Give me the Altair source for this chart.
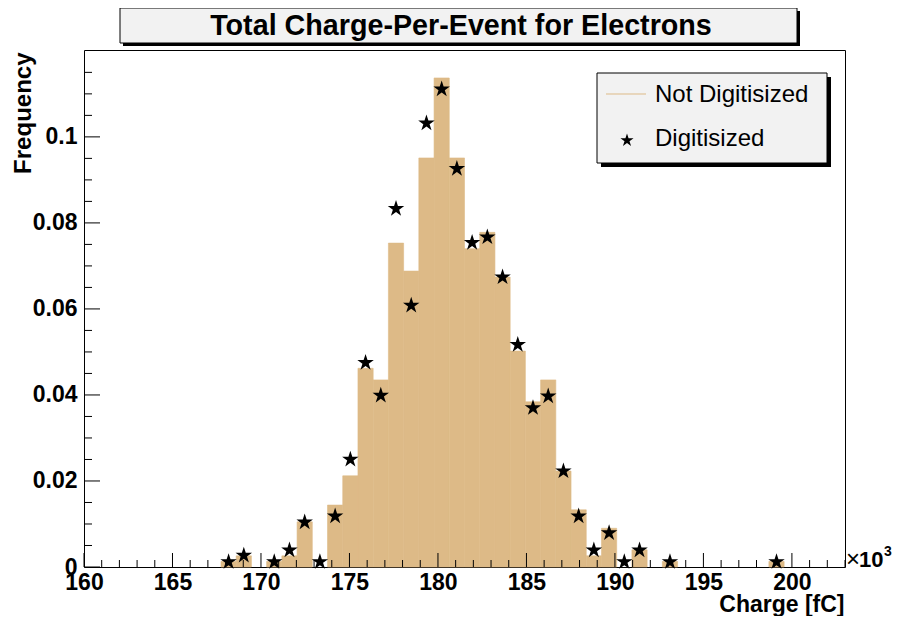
import altair as alt
import pandas as pd

# ---------------- data ----------------
x_domain = [160, 203]
y_domain = [0, 0.1202]
bin_width = 0.86

# lower edges of the filled histogram bins (x10^3 fC)
bin_lo = [167.74, 168.60, 169.46, 170.32, 171.18, 172.04, 172.90, 173.76, 174.62,
          175.48, 176.34, 177.20, 178.06, 178.92, 179.78, 180.64, 181.50, 182.36,
          183.22, 184.08, 184.94, 185.80, 186.66, 187.52, 188.38, 189.24, 190.10,
          190.96, 191.82, 192.68, 198.70]
# "Not Digitisized" histogram frequencies
not_digitised = [0.0013, 0.0026, 0.0, 0.0013, 0.0026, 0.0105, 0.0, 0.0144, 0.0212,
                 0.0462, 0.0435, 0.0753, 0.0688, 0.0951, 0.1137, 0.0951, 0.0740, 0.0778,
                 0.0674, 0.0502, 0.0384, 0.0435, 0.0223, 0.0133, 0.0026, 0.0090, 0.0,
                 0.0040, 0.0, 0.0013, 0.0013]
# "Digitisized" star markers (None = no marker)
digitised = [0.0013, 0.0028, None, 0.0013, 0.0040, 0.0105, 0.0013, 0.0119, 0.0251,
             0.0476, 0.0400, 0.0834, 0.0609, 0.1033, 0.1112, 0.0927, 0.0755, 0.0768,
             0.0675, 0.0518, 0.0371, 0.0398, 0.0224, 0.0119, 0.0040, 0.0080, 0.0013,
             0.0040, None, 0.0013, 0.0013]

x_major = [160, 165, 170, 175, 180, 185, 190, 195, 200]
x_minor = [v for v in range(161, 204) if v % 5 != 0]
y_major = [0, 0.02, 0.04, 0.06, 0.08, 0.1]
y_minor = [0.005, 0.01, 0.015, 0.025, 0.03, 0.035, 0.045, 0.05, 0.055, 0.065, 0.07,
           0.075, 0.085, 0.09, 0.095, 0.105, 0.11, 0.115]

title_text = "Total Charge-Per-Event for Electrons"
legend_labels = ["Not Digitisized", "Digitisized"]

# ---------------- styling ----------------
FONT = "Liberation Sans"
TAN = "#ddba87"
STAR = ("M0,-0.95L0.225,-0.259L0.951,-0.259L0.363,0.168L0.588,0.859L0,0.432"
        "L-0.588,0.859L-0.363,0.168L-0.951,-0.259L-0.225,-0.259Z")
W, H = 761, 517

hist = pd.DataFrame({"lo": bin_lo, "freq": not_digitised})
hist["hi"] = hist["lo"] + bin_width
hist = hist[hist["freq"] > 0]

pts = pd.DataFrame({"lo": bin_lo, "freq": digitised}).dropna()
pts["center"] = pts["lo"] + bin_width / 2

xs = alt.Scale(domain=x_domain, nice=False, zero=False)
ys = alt.Scale(domain=y_domain, nice=False, zero=False)

xaxis = alt.Axis(
    values=x_major, format="d", ticks=False, tickSize=0, domain=False, grid=False,
    labelFont=FONT, labelFontWeight="bold", labelFontSize=23, labelColor="black",
    labelPadding=4, labelFlush=False, labelOverlap=False, labelBound=False,
    title="Charge [fC]", titleFont=FONT, titleFontWeight="bold", titleFontSize=23,
    titleColor="black", titleAlign="right", titleAnchor="end", titleBaseline="alphabetic",
    titleX=W - 1, titleY=44)
yaxis = alt.Axis(
    values=y_major, format="~g", ticks=False, tickSize=0, domain=False, grid=False,
    labelFont=FONT, labelFontWeight="bold", labelFontSize=23, labelColor="black",
    labelPadding=7, labelOverlap=False, labelBound=False,
    title="Frequency", titleFont=FONT, titleFontWeight="bold", titleFontSize=24,
    titleColor="black", titleAngle=-90, titleAlign="right", titleAnchor="end",
    titleBaseline="alphabetic", titleX=-54, titleY=2)

bars = alt.Chart(hist).mark_rect(color=TAN, stroke=TAN, strokeWidth=0.6).encode(
    x=alt.X("lo:Q", scale=xs, axis=xaxis, title="Charge [fC]"),
    x2="hi:Q",
    y=alt.Y("freq:Q", scale=ys, axis=yaxis, title="Frequency"),
    y2=alt.datum(0),
)

stars = alt.Chart(pts).mark_point(shape=STAR, filled=True, size=300, color="black",
                                  opacity=1, strokeWidth=0).encode(
    x=alt.X("center:Q", scale=xs, axis=xaxis, title="Charge [fC]"),
    y=alt.Y("freq:Q", scale=ys, axis=yaxis, title="Frequency"),
)

xmaj = alt.Chart(pd.DataFrame({"v": x_major})).mark_rule(color="black").encode(
    x=alt.X("v:Q", scale=xs, axis=xaxis, title="Charge [fC]"),
    y=alt.value(H), y2=alt.value(H - 14))
xmin = alt.Chart(pd.DataFrame({"v": x_minor})).mark_rule(color="black").encode(
    x=alt.X("v:Q", scale=xs, axis=xaxis, title="Charge [fC]"),
    y=alt.value(H), y2=alt.value(H - 7))
ymaj = alt.Chart(pd.DataFrame({"v": y_major})).mark_rule(color="black").encode(
    y=alt.Y("v:Q", scale=ys, axis=yaxis, title="Frequency"),
    x=alt.value(0), x2=alt.value(16))
ymin = alt.Chart(pd.DataFrame({"v": y_minor})).mark_rule(color="black").encode(
    y=alt.Y("v:Q", scale=ys, axis=yaxis, title="Frequency"),
    x=alt.value(0), x2=alt.value(8))

one = pd.DataFrame({"a": [0]})

# title box (ROOT style pave with shadow)
title_shadow = alt.Chart(one).mark_rect(color="black").encode(
    x=alt.value(39), x2=alt.value(716), y=alt.value(-39), y2=alt.value(-4))
title_box = alt.Chart(one).mark_rect(fill="#f2f2f2", stroke="black", strokeWidth=1).encode(
    x=alt.value(36), x2=alt.value(713), y=alt.value(-42), y2=alt.value(-7))
title_lbl = alt.Chart(one).mark_text(text=title_text, font=FONT, fontWeight="bold",
                                     fontSize=28.7, color="black", align="center",
                                     baseline="middle").encode(
    x=alt.value(377), y=alt.value(-24))

# legend box
leg_shadow = alt.Chart(one).mark_rect(color="black").encode(
    x=alt.value(517), x2=alt.value(747), y=alt.value(27), y2=alt.value(117))
leg_box = alt.Chart(one).mark_rect(fill="#f2f2f2", stroke="black", strokeWidth=1).encode(
    x=alt.value(513), x2=alt.value(743), y=alt.value(23), y2=alt.value(113))
leg_line = alt.Chart(one).mark_rule(color=TAN, strokeWidth=1).encode(
    x=alt.value(522), x2=alt.value(562), y=alt.value(44))
leg_star = alt.Chart(one).mark_point(shape=STAR, filled=True, size=190, color="black",
                                     opacity=1, strokeWidth=0).encode(
    x=alt.value(543), y=alt.value(90))
leg_t1 = alt.Chart(one).mark_text(text=legend_labels[0], font=FONT, fontSize=24,
                                  color="black", align="left", baseline="middle").encode(
    x=alt.value(571), y=alt.value(45))
leg_t2 = alt.Chart(one).mark_text(text=legend_labels[1], font=FONT, fontSize=24,
                                  color="black", align="left", baseline="middle").encode(
    x=alt.value(571), y=alt.value(89))

# x10^3 exponent
exp_x = alt.Chart(one).mark_text(text="×", font=FONT, fontSize=24, color="black",
                                 align="left", baseline="alphabetic").encode(
    x=alt.value(762), y=alt.value(517))
exp_10 = alt.Chart(one).mark_text(text="10", font=FONT, fontSize=22, fontWeight="bold",
                                  color="black", align="left", baseline="alphabetic").encode(
    x=alt.value(775), y=alt.value(517))
exp_3 = alt.Chart(one).mark_text(text="3", font=FONT, fontSize=14, fontWeight="bold",
                                 color="black", align="left", baseline="alphabetic").encode(
    x=alt.value(800), y=alt.value(506))

chart = alt.layer(
    bars, xmin, xmaj, ymin, ymaj, stars,
    title_shadow, title_box, title_lbl,
    leg_shadow, leg_box, leg_line, leg_star, leg_t1, leg_t2,
    exp_x, exp_10, exp_3,
).properties(
    width=W, height=H,
    padding={"left": 76, "top": 42, "right": 47, "bottom": 49},
    autosize=alt.AutoSizeParams(type="none"),
    background="white",
).configure_view(
    stroke="black", strokeWidth=1
)

chart.save("out.html", embed_options={"renderer": "svg", "actions": False})
